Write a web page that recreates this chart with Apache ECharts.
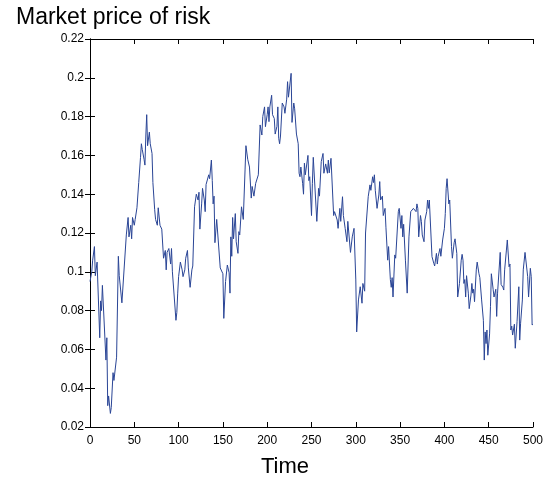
<!DOCTYPE html>
<html>
<head>
<meta charset="utf-8">
<script src="https://cdn.jsdelivr.net/npm/echarts@6/dist/echarts.min.js"></script>
<style>
html,body{margin:0;padding:0;background:#fff;}
#chart{width:554px;height:482px;}
</style>
</head>
<body>
<div id="chart"></div>
<script>
var titleText = 'Market price of risk';
var xAxisTitle = 'Time';
var xTicks = [0, 50, 100, 150, 200, 250, 300, 350, 400, 450, 500];
var yTicks = [0.02, 0.04, 0.06, 0.08, 0.1, 0.12, 0.14, 0.16, 0.18, 0.2, 0.22];

var times = [0,2,3,5,6,8,11,12,13,14,18,19,20,21,23,24,26,27,30,32,33,36,41,43,44,46,47,48,50,51,53,55,57,58,59,61,62,63,64,65,67,68,70,71,73,74,76,77,79,81,83,85,86,87,89,91,92,93,95,97,98,99,100,102,104,105,107,108,110,111,113,115,116,118,120,122,123,124,126,127,129,130,131,132,134,135,137,138,139,140,141,143,144,147,150,151,153,154,155,157,158,159,160,161,162,164,165,167,168,169,171,173,175,176,178,180,181,182,183,185,187,189,190,192,194,195,197,198,200,201,202,203,205,206,208,209,211,212,213,214,215,217,219,220,222,223,224,225,227,228,230,231,233,235,236,237,238,240,241,242,243,246,247,248,250,251,252,253,256,258,259,261,263,264,266,268,269,270,272,275,276,277,279,280,282,283,285,286,288,290,291,292,294,296,298,300,301,303,305,307,308,310,311,312,314,316,317,319,320,321,322,324,326,327,328,330,331,333,334,336,337,339,340,341,342,344,345,347,348,349,351,352,353,354,356,358,360,362,363,365,366,368,369,370,371,373,374,375,377,378,380,381,382,383,385,386,388,389,391,392,393,395,396,398,400,401,402,403,404,405,406,408,409,411,412,414,415,417,419,420,421,422,423,424,425,427,428,430,431,432,433,434,436,437,439,440,442,444,445,446,447,448,449,451,452,453,455,456,458,459,460,461,463,464,466,467,468,470,471,473,474,475,476,477,479,480,481,482,484,485,486,488,489,491,492,494,495,497,498,499,500];

var riskValues = [0.095,0.100,0.106,0.113,0.098,0.105,0.066,0.085,0.080,0.093,0.0545,0.066,0.031,0.036,0.027,0.030,0.048,0.044,0.056,0.108,0.098,0.084,0.119,0.128,0.118,0.124,0.117,0.128,0.124,0.127,0.133,0.146,0.159,0.166,0.163,0.158,0.155,0.170,0.181,0.165,0.172,0.166,0.161,0.146,0.132,0.127,0.124,0.133,0.124,0.122,0.107,0.111,0.101,0.110,0.112,0.104,0.112,0.100,0.099,0.075,0.079,0.089,0.0975,0.105,0.101,0.0975,0.101,0.107,0.111,0.102,0.092,0.101,0.103,0.1335,0.140,0.137,0.141,0.122,0.135,0.143,0.137,0.131,0.145,0.144,0.150,0.148,0.1576,0.147,0.135,0.139,0.115,0.127,0.128,0.102,0.099,0.076,0.095,0.095,0.1035,0.0995,0.089,0.118,0.108,0.128,0.117,0.130,0.1155,0.1095,0.1207,0.119,0.1335,0.127,0.1525,0.165,0.158,0.154,0.155,0.138,0.144,0.139,0.1456,0.1456,0.150,0.1757,0.1705,0.180,0.185,0.1748,0.181,0.185,0.1774,0.185,0.191,0.181,0.179,0.171,0.175,0.185,0.1688,0.166,0.170,0.187,0.185,0.1817,0.189,0.198,0.190,0.189,0.2023,0.177,0.187,0.184,0.171,0.166,0.1508,0.149,0.154,0.1456,0.140,0.156,0.150,0.160,0.147,0.149,0.129,0.1456,0.159,0.158,0.126,0.143,0.139,0.1568,0.161,0.1508,0.1556,0.1508,0.1576,0.151,0.1585,0.129,0.131,0.130,0.1267,0.1224,0.1327,0.126,0.1387,0.129,0.1224,0.1155,0.126,0.127,0.110,0.118,0.1224,0.0958,0.069,0.0855,0.0923,0.0838,0.094,0.090,0.120,0.119,0.1387,0.1448,0.142,0.149,0.146,0.150,0.142,0.1327,0.1396,0.1465,0.137,0.139,0.129,0.1327,0.123,0.106,0.113,0.096,0.092,0.097,0.087,0.1087,0.107,0.108,0.131,0.1327,0.1224,0.129,0.118,0.1245,0.106,0.089,0.118,0.131,0.130,0.1327,0.133,0.131,0.135,0.1327,0.118,0.129,0.126,0.119,0.1155,0.1267,0.131,0.137,0.1327,0.137,0.137,0.1078,0.1044,0.103,0.1095,0.104,0.108,0.112,0.108,0.1164,0.1224,0.130,0.143,0.148,0.148,0.135,0.137,0.113,0.107,0.115,0.117,0.1095,0.087,0.094,0.106,0.109,0.106,0.094,0.096,0.087,0.098,0.089,0.081,0.088,0.094,0.089,0.091,0.0846,0.101,0.105,0.099,0.097,0.0855,0.075,0.0545,0.069,0.063,0.070,0.057,0.068,0.082,0.099,0.091,0.087,0.091,0.077,0.089,0.089,0.110,0.0935,0.092,0.0906,0.101,0.1112,0.1164,0.1026,0.104,0.070,0.072,0.0674,0.073,0.0606,0.0606,0.0743,0.0923,0.0648,0.0735,0.0855,0.101,0.110,0.111,0.0975,0.087,0.1018,0.0975,0.0726,0.073];

var seriesData = times.map(function (t, i) { return [t, riskValues[i]]; });

var FONT = 'Liberation Sans, Arial, sans-serif';
var chart = echarts.init(document.getElementById('chart'), null, {renderer: 'canvas'});

var tickStyle = {show: true, inside: true, length: 5, lineStyle: {color: '#000', width: 1}};
var lineStyleAxis = {show: true, lineStyle: {color: '#000', width: 1}};

chart.setOption({
  animation: false,
  backgroundColor: '#fff',
  title: [
    {text: titleText, left: 11, top: 1, textStyle: {fontFamily: FONT, fontSize: 23, fontWeight: 'normal', color: '#000'}},
    {text: xAxisTitle, left: 256, top: 451, textStyle: {fontFamily: FONT, fontSize: 22, fontWeight: 'normal', color: '#000'}}
  ],
  grid: {left: 90, right: 21, top: 39, bottom: 55, show: false},
  xAxis: [
    {type: 'value', min: xTicks[0], max: xTicks[xTicks.length - 1], interval: 50, position: 'bottom',
     axisLine: lineStyleAxis, axisTick: tickStyle, splitLine: {show: false},
     axisLabel: {show: true, margin: 8, fontFamily: FONT, fontSize: 12, color: '#000'}},
    {type: 'value', min: xTicks[0], max: xTicks[xTicks.length - 1], interval: 50, position: 'top',
     axisLine: lineStyleAxis, axisTick: tickStyle, splitLine: {show: false}, axisLabel: {show: false}}
  ],
  yAxis: [
    {type: 'value', min: yTicks[0], max: yTicks[yTicks.length - 1], interval: 0.02, position: 'left',
     axisLine: lineStyleAxis, axisTick: tickStyle, splitLine: {show: false},
     axisLabel: {show: true, margin: 6, fontFamily: FONT, fontSize: 12, color: '#000',
       formatter: function (v) { return String(parseFloat(v.toFixed(2))); }}},
    {type: 'value', min: yTicks[0], max: yTicks[yTicks.length - 1], interval: 0.02, position: 'right',
     axisLine: lineStyleAxis, axisTick: tickStyle, splitLine: {show: false}, axisLabel: {show: false}}
  ],
  series: [{
    type: 'line',
    data: seriesData,
    xAxisIndex: 0,
    yAxisIndex: 0,
    showSymbol: false,
    symbol: 'none',
    lineStyle: {color: '#2a4596', width: 1},
    itemStyle: {color: '#2a4596'}
  }]
});
</script>
</body>
</html>
